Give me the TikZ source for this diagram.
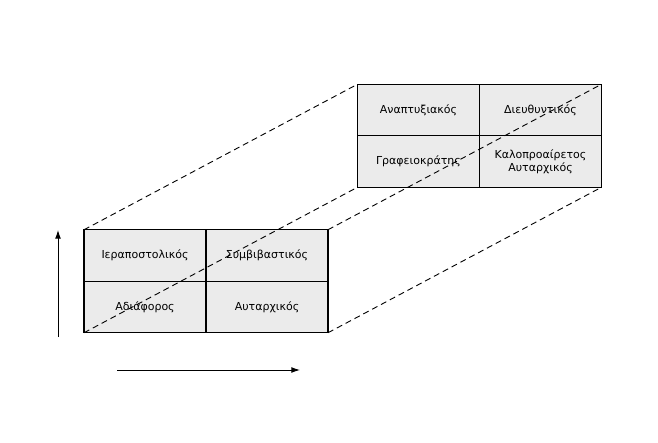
\documentclass[tikz,border=0pt]{standalone}
\usepackage{fontspec}
\setmainfont{DejaVu Sans}
\usetikzlibrary{arrows.meta,positioning}

\begin{document}
\begin{tikzpicture}[x=1pt,y=-1pt]
\tikzstyle{cell} = [shape=rectangle, draw=black, fill=black!8, line width=1.2pt, minimum width=122pt, minimum height=51.5pt, inner sep=2pt, outer sep=0pt, align=center, font=\fontsize{11}{13}\selectfont];
\tikzstyle{link} = [line width=0.9pt, dash pattern=on 6pt off 4pt];
\useasboundingbox (0,0) rectangle (658,443);

% front box
\node[cell](Ierapostolikos) at (145,255.5) {Ιεραποστολικός};
\node[cell, right=0pt of Ierapostolikos](Symvivastikos) {Συμβιβαστικός};
\node[cell, below=0pt of Ierapostolikos](Adiaforos) {Αδιάφορος};
\node[cell, right=0pt of Adiaforos](Autarchikos) {Αυταρχικός};

% back box
\node[cell](Anaptyxiakos) at (418.5,110) {Αναπτυξιακός};
\node[cell, right=0pt of Anaptyxiakos](Dieuthyntikos) {Διευθυντικός};
\node[cell, below=0pt of Anaptyxiakos](Grafeiokratis) {Γραφειοκράτης};
\node[cell, right=0pt of Grafeiokratis](Kaloproairetos) {Καλοπροαίρετος\\Αυταρχικός};

% corners joined
\draw[link] (Ierapostolikos.north west) -- (Anaptyxiakos.north west);
\draw[link] (Symvivastikos.north east) -- (Dieuthyntikos.north east);
\draw[link] (Adiaforos.south west) -- (Grafeiokratis.south west);
\draw[link] (Autarchikos.south east) -- (Kaloproairetos.south east);

% axes
\coordinate (yfrom) at (58,337);
\coordinate (yto) at (58,230);
\coordinate (xfrom) at (117,370);
\coordinate (xto) at (300,370);
\draw[-{Latex[length=3mm,width=2mm]}, line width=0.9pt] (yfrom) -- (yto);
\draw[-{Latex[length=3mm,width=2mm]}, line width=0.9pt] (xfrom) -- (xto);
\end{tikzpicture}
\end{document}
